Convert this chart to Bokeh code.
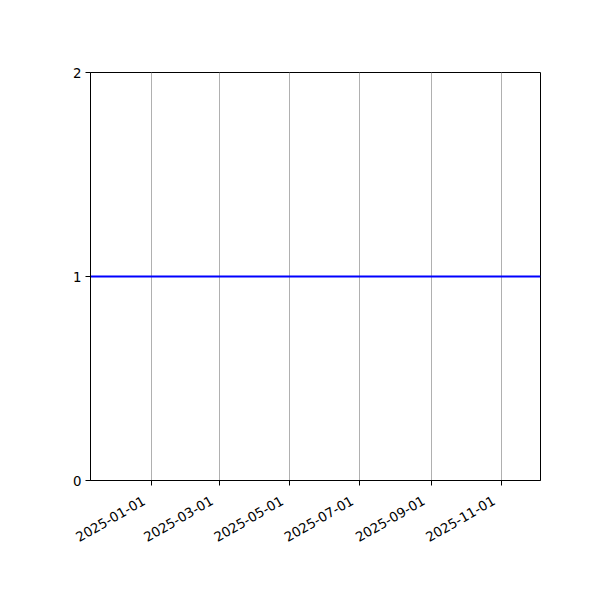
import math
from datetime import datetime

from bokeh.plotting import figure
from bokeh.models import ColumnDataSource, FixedTicker, DatetimeTickFormatter, Range1d
from bokeh.embed import file_html
from bokeh.resources import INLINE

# data
dates = ["2024-11-09", "2025-12-05"]
values = [1, 1]
tick_dates = ["2025-01-01", "2025-03-01", "2025-05-01", "2025-07-01", "2025-09-01", "2025-11-01"]
y_ticks = [0, 1, 2]


def to_dt(s):
    return datetime.strptime(s, "%Y-%m-%d")


def to_ms(s):
    return (to_dt(s) - datetime(1970, 1, 1)).total_seconds() * 1000.0


source = ColumnDataSource(data=dict(x=[to_dt(d) for d in dates], y=values))

p = figure(
    x_axis_type="datetime",
    frame_width=450,
    frame_height=408,
    min_border_left=90,
    min_border_top=72,
    min_border_right=50,
    min_border_bottom=100,
    x_range=Range1d(to_dt(dates[0]), to_dt(dates[-1])),
    y_range=Range1d(0, 2),
    output_backend="svg",
    toolbar_location=None,
)

p.line(x="x", y="y", source=source, line_color="blue", line_width=2)

# trailing no-break spaces nudge the rotated labels left, like matplotlib's ha="right"
fmt = "%Y-%m-%d\u00a0\u00a0"
p.xaxis.ticker = FixedTicker(ticks=[to_ms(d) for d in tick_dates])
p.xaxis.formatter = DatetimeTickFormatter(days=fmt, months=fmt, years=fmt)
p.xaxis.major_label_orientation = math.pi / 6
p.yaxis.ticker = FixedTicker(ticks=y_ticks)

for ax in (p.xaxis, p.yaxis):
    ax.axis_line_color = "black"
    ax.axis_line_width = 1
    ax.major_tick_line_color = "black"
    ax.major_tick_out = 5
    ax.major_tick_in = 0
    ax.minor_tick_line_color = None
    ax.major_label_text_font = "DejaVu Sans"
    ax.major_label_text_font_size = "13.33px"
    ax.major_label_text_color = "black"

p.yaxis.major_label_standoff = 4
p.xaxis.major_label_standoff = 10

p.xgrid.grid_line_color = "#b0b0b0"
p.xgrid.grid_line_width = 1
p.ygrid.grid_line_color = None

p.outline_line_color = "black"
p.outline_line_width = 1
p.outline_line_alpha = 1
p.background_fill_color = "white"
p.border_fill_color = "white"

open("out.html", "w").write(file_html(p, INLINE))
